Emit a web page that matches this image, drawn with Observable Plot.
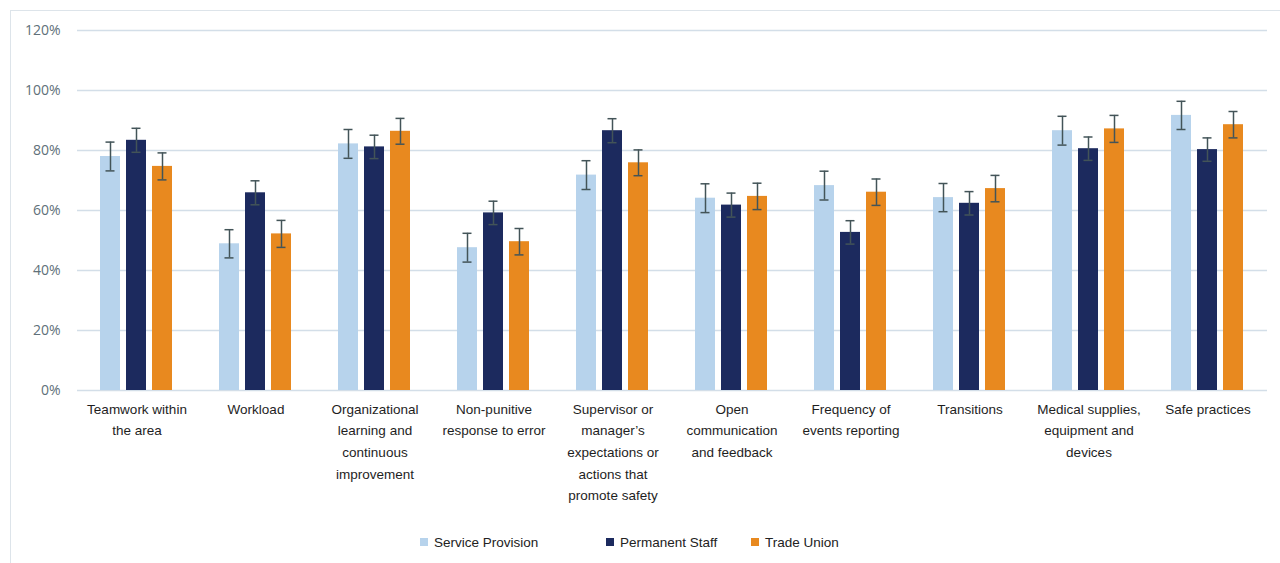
<!DOCTYPE html>
<html>
<head>
<meta charset="utf-8">
<script src="https://cdn.jsdelivr.net/npm/d3@7"></script>
<script src="https://cdn.jsdelivr.net/npm/@observablehq/plot@0.6"></script>
<style>
  html, body { margin: 0; padding: 0; background: #ffffff; }
  body { width: 1280px; height: 563px; position: relative; overflow: hidden; font-family: "Liberation Sans", Arial, sans-serif; }
  #frame { position: absolute; left: 10px; top: 10px; right: -4px; bottom: -4px; border: 1.5px solid #dde4ea; }
  #chart { position: absolute; left: 0; top: 0; }
  #legend { position: absolute; top: 534px; left: 0; width: 1280px; height: 20px; font-size: 13.5px; color: #222; }
  .item { position: absolute; top: 0; display: flex; align-items: center; height: 16px; }
  .sw { width: 8px; height: 8px; margin-right: 6px; }
</style>
</head>
<body>
<div id="frame"></div>
<div id="chart"></div>
<div id="legend"></div>
<script>
const categories = [
  "Teamwork within\nthe area",
  "Workload",
  "Organizational\nlearning and\ncontinuous\nimprovement",
  "Non-punitive\nresponse to error",
  "Supervisor or\nmanager’s\nexpectations or\nactions that\npromote safety",
  "Open\ncommunication\nand feedback",
  "Frequency of\nevents reporting",
  "Transitions",
  "Medical supplies,\nequipment and\ndevices",
  "Safe practices"
];
const seriesNames = ["Service Provision", "Permanent Staff", "Trade Union"];
const serviceProvision = [78.0, 48.9, 82.2, 47.6, 71.8, 64.1, 68.3, 64.3, 86.6, 91.7];
const serviceProvisionErr = [4.8, 4.7, 4.8, 4.8, 4.8, 4.8, 4.8, 4.7, 4.8, 4.7];
const permanentStaff = [83.4, 65.9, 81.2, 59.2, 86.6, 61.8, 52.7, 62.4, 80.6, 80.3];
const permanentStaffErr = [4.0, 4.0, 3.9, 3.9, 4.0, 4.0, 3.9, 3.9, 3.9, 3.9];
const tradeUnion = [74.7, 52.2, 86.4, 49.6, 75.9, 64.7, 66.1, 67.3, 87.2, 88.6];
const tradeUnionErr = [4.5, 4.5, 4.3, 4.4, 4.3, 4.4, 4.4, 4.4, 4.5, 4.4];
const yTicks = [0, 20, 40, 60, 80, 100, 120];
const colors = ["#b7d3ec", "#1c2a5e", "#e8891f"];

const seriesValues = [serviceProvision, permanentStaff, tradeUnion];
const seriesErrs = [serviceProvisionErr, permanentStaffErr, tradeUnionErr];
const data = categories.flatMap((c, i) => seriesNames.map((s, j) => ({
  cat: c, series: s, v: seriesValues[j][i], e: seriesErrs[j][i]
})));

const chart = Plot.plot({
  width: 1280,
  height: 520,
  marginLeft: 72,
  marginRight: 9,
  marginTop: 30,
  marginBottom: 130,
  style: { fontFamily: "'Liberation Sans', Arial, sans-serif", fontSize: "13.5px", background: "transparent" },
  fx: { domain: categories, padding: 0, label: null },
  x: { domain: seriesNames, paddingInner: 0.22, paddingOuter: 0.89, axis: null },
  y: { domain: [0, 120], label: null },
  color: { domain: seriesNames, range: colors },
  marks: [
    Plot.gridY(yTicks, { stroke: "#d3dee8", strokeOpacity: 1, strokeWidth: 1.5 }),
    Plot.axisY(yTicks, { tickSize: 0, tickPadding: 17, tickFormat: d => d + "%", fontSize: 14, fill: "#607079", label: null, fontFamily: "'Open Sans', 'Noto Sans', sans-serif" }),
    Plot.axisFx({ anchor: "bottom", tickSize: 0, tickPadding: 8, lineHeight: 1.6, fontSize: 13.5, fill: "#1e1e1e", label: null }),
    Plot.barY(data, { fx: "cat", x: "series", y: "v", fill: "series" }),
    Plot.ruleX(data, { fx: "cat", x: "series", y1: d => d.v - d.e, y2: d => d.v + d.e, stroke: "#435458", strokeWidth: 1.5 }),
    Plot.tickY(data, { fx: "cat", x: "series", y: d => d.v + d.e, stroke: "#435458", strokeWidth: 1.5, insetLeft: 5.5, insetRight: 5.5 }),
    Plot.tickY(data, { fx: "cat", x: "series", y: d => d.v - d.e, stroke: "#435458", strokeWidth: 1.5, insetLeft: 5.5, insetRight: 5.5 })
  ]
});
document.getElementById("chart").appendChild(chart);

const legendPos = [420, 606, 751];
const legend = document.getElementById("legend");
seriesNames.forEach((s, i) => {
  const it = document.createElement("div");
  it.className = "item";
  it.style.left = legendPos[i] + "px";
  const sw = document.createElement("span");
  sw.className = "sw";
  sw.style.background = colors[i];
  const t = document.createElement("span");
  t.textContent = s;
  it.appendChild(sw);
  it.appendChild(t);
  legend.appendChild(it);
});
</script>
</body>
</html>
